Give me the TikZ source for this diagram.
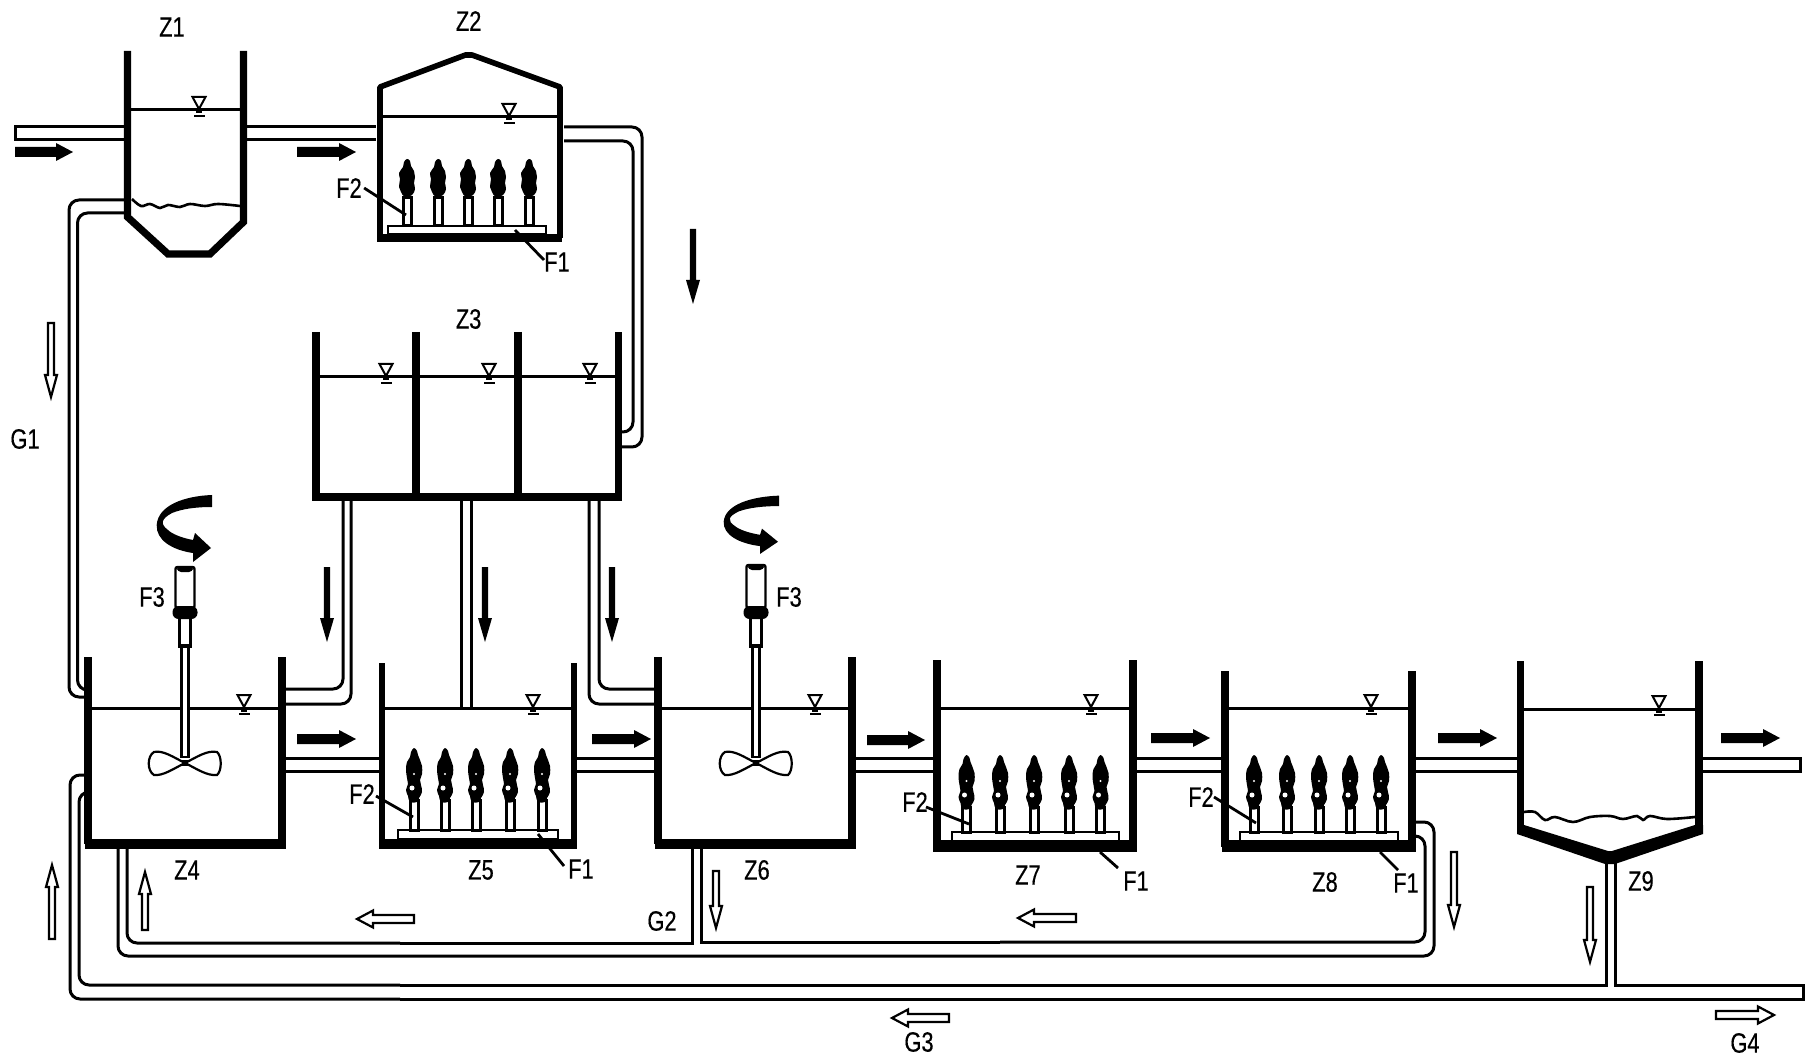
\documentclass[tikz,border=0pt]{standalone}
\usepackage{fontspec}
\setmainfont{Liberation Sans}[FakeBold=0.5]
\newcommand\lbltxt[1]{\scalebox{0.78}[1]{#1}}
\newcommand\wlevel[2]{%
  \draw[line width=1pt,fill=white] (#1-6.5,#2-12) -- (#1+6.5,#2-12) -- (#1,#2) -- cycle;
  \fill (#1-3,#2+1) rectangle (#1+3,#2+4.5);
  \fill (#1-5.5,#2+6) rectangle (#1+5.5,#2+8);}
\newcommand\hblack[3]{%
  \pgfmathsetmacro\hb{#2-17}
  \fill (#1,#3-5) -- (\hb,#3-5) -- (\hb,#3-9) -- (#2,#3) -- (\hb,#3+9) -- (\hb,#3+5) -- (#1,#3+5) -- cycle;}
\newcommand\vblack[3]{%
  \pgfmathsetmacro\hb{#3-24}
  \fill (#1-3.2,#2) -- (#1+3.2,#2) -- (#1+3.2,\hb) -- (#1+7,\hb) -- (#1,#3) -- (#1-7,\hb) -- (#1-3.2,\hb) -- cycle;}
\newcommand\vopen[3]{%
  \pgfmathsetmacro\hb{#3>#2 ? #3-22 : #3+22}
  \draw[openarrow] (#1-3,#2) -- (#1+3,#2) -- (#1+3,\hb) -- (#1+6,\hb) -- (#1,#3) -- (#1-6,\hb) -- (#1-3,\hb) -- cycle;}
\newcommand\hopen[3]{%
  \pgfmathsetmacro\hb{#2>#1 ? #2-16 : #2+16}
  \draw[openarrow] (#1,#3-4) -- (\hb,#3-4) -- (\hb,#3-8.5) -- (#2,#3) -- (\hb,#3+8.5) -- (\hb,#3+4) -- (#1,#3+4) -- cycle;}
\newcommand\curlarrow{%
  \fill (212,495) .. controls (185,496) and (158,505) .. (156.7,525)
    .. controls (156,540) and (172,550) .. (193,553) -- (193,562) -- (211,548) -- (195,533) -- (193,540)
    .. controls (182,538) and (172,534) .. (168,530)
    .. controls (160,524) and (161,519) .. (172,513)
    .. controls (182,509) and (195,507) .. (212,507) -- cycle;}
\newcommand\mixer[2]{%
  \draw[line width=1.1pt,fill=white] (#1-3.5,645) rectangle (#1+3.5,757);
  \draw[line width=1.9pt,fill=white] (#1-5.5,617) rectangle (#1+5.5,646);
  \draw[line width=1.2pt,fill=white,rounded corners=1pt] (#1-9.5,#2) rectangle (#1+9.5,608);
  \fill[rounded corners=2pt] (#1-8,#2-1) rectangle (#1+8,#2+5);
  \fill[rounded corners=3pt] (#1-12.5,606) rectangle (#1+12.5,619);
  \draw[line width=1.1pt,fill=white] (#1,763) .. controls (#1-12,757) and (#1-22,750) .. (#1-31,752)
     .. controls (#1-38,756) and (#1-38,771) .. (#1-31,775) .. controls (#1-22,776) and (#1-12,769) .. (#1,763)
     .. controls (#1+12,757) and (#1+22,750) .. (#1+32,752) .. controls (#1+37,756) and (#1+37,771) .. (#1+32,775)
     .. controls (#1+22,776) and (#1+12,769) .. (#1,763) -- cycle;
  \fill (#1-3,760) rectangle (#1+3,766);}
\tikzset{
  wall/.style={line width=3.6pt,line join=miter},
  pipeline/.style={line width=1.5pt},
  pipe/.style={line width=1.5pt,rounded corners=5pt},
  waterline/.style={line width=1.5pt},
  openarrow/.style={line width=1.1pt,fill=white},
  leader/.style={line width=1.4pt},
  lbl/.style={inner sep=0pt,font=\fontsize{14}{14}\selectfont},
  stem/.style={line width=1.5pt,fill=white},
  plate/.style={line width=1.4pt,fill=white},
  plumeA/.pic={\fill plot[smooth cycle,tension=.7] coordinates {(0,0)(3,2)(4,7)(7,12)(8,18)(7,24)(8,30)(5,36)(-2,38)(-6,33)(-8,28)(-7,20)(-8,14)(-4,8)(-3,3)};},
  plumeB/.pic={\fill plot[smooth cycle,tension=.7] coordinates {(0,0)(3,3)(4,7)(6,12)(8,18)(8,26)(6,32)(7,37)(8,44)(5,50)(3,54)(-4,54)(-6,48)(-8,42)(-6,36)(-7,30)(-8,22)(-7,14)(-4,9)(-3,4)};
     \fill[white] (-2,40) circle [radius=2.5];
     \fill[white] (0,26) circle [radius=1.2];}
}
\begin{document}
\begin{tikzpicture}[x=0.5pt,y=-0.5pt]
\useasboundingbox[fill=white] (0,0) rectangle (1812,1064);
% ---------- pipes
\draw[pipeline] (129,127) -- (15,127) -- (15,140) -- (129,140);
\draw[pipeline] (243,127) -- (376,127) (243,140) -- (376,140);
\draw[pipe] (564,127) -- (642,127) -- (642,447) -- (620,447);
\draw[pipe] (564,141) -- (633,141) -- (633,432) -- (620,432);
% G1
\draw[pipe] (129,200) -- (69,200) -- (69,697) -- (88,697);
\draw[pipe] (129,213) -- (77.5,213) -- (77.5,690) -- (88,690);
% Z3 outlets
\draw[pipe] (343,497) -- (343,689) -- (282,689);
\draw[pipe] (351,497) -- (351,704) -- (282,704);
\draw[pipeline] (461,497) -- (461,708) (471,497) -- (471,708);
\draw[pipe] (599,497) -- (599,689) -- (658,689);
\draw[pipe] (589,497) -- (589,704) -- (658,704);
% process line
\foreach \xa/\xb in {282/382,574/658,852/937,1133/1225,1412/1520}{
  \draw[pipeline] (\xa,758) -- (\xb,758) (\xa,771) -- (\xb,771);}
\draw[pipeline] (1699,758) -- (1800,758) -- (1800,771) -- (1699,771);
% G2 return
\draw[pipe] (1416,822) -- (1434,822) -- (1434,956) -- (118,956) -- (118,849);
\draw[pipe] (1416,836) -- (1425,836) -- (1425,942) -- (1000,942);
\draw[pipeline] (1000,942) -- (701,942) -- (701,849);
\draw[pipeline] (692,849) -- (692,943) -- (400,943);
\draw[pipe] (400,943) -- (127,943) -- (127,849);
% G3/G4 line
\draw[pipe] (88,775) -- (70,775) -- (70,999) -- (400,999);
\draw[pipeline] (400,999) -- (1803,999) -- (1803,985) -- (1615.5,985) -- (1615.5,860);
\draw[pipe] (88,792) -- (79,792) -- (79,985) -- (400,985);
\draw[pipeline] (400,985) -- (1606.5,985) -- (1606.5,860);
% ---------- Z1
\draw[wall] (127.5,51) -- (127.5,217) -- (168,254) -- (210,254) -- (243.5,222) -- (243.5,51);
\fill (168,251) rectangle (210,257);
\draw[waterline] (127.5,110) -- (243,110);
\wlevel{199}{109}
\draw[line width=1.3pt] plot[smooth,tension=.6] coordinates {(132,199)(141,206)(150,204)(160,208)(168,205)(180,207)(190,204)(205,206)(218,204)(240,206)};
\node[lbl] (z1) at (172,27) {\lbltxt{Z1}};
% ---------- Z2
\draw[line width=2.8pt,line join=round] (380,238) -- (380,87) -- (465.5,55) -- (472,55) -- (560,87) -- (560,238);
\fill (377,234) rectangle (562,242);
\draw[waterline] (380,117) -- (560,117);
\wlevel{509}{116}
\draw[plate] (388,226) rectangle (546,234);
\foreach \x in {407,438,468,498,529}{
  \draw[stem] (\x-4,198) rectangle (\x+4,226);
  \pic at (\x,159) {plumeA};}
\node[lbl] (z2) at (468.6,21) {\lbltxt{Z2}};
\node[lbl] (f2a) at (349,188) {\lbltxt{F2}};
\node[lbl] (f1a) at (557,262) {\lbltxt{F1}};
\coordinate (f2at) at (406,215);
\coordinate (f1at) at (515,230);
\draw[leader] (f2a.east) ++(2,0) -- (f2at);
\draw[leader] (f1at) -- (544,260);
% ---------- Z3
\draw[wall] (316,332) -- (316,497) -- (618.6,497) -- (618.6,332);
\draw[line width=4pt] (416,332) -- (416,497) (518,332) -- (518,497);
\fill (313,493) rectangle (621,501);
\draw[waterline] (316,377) -- (618,377);
\wlevel{386}{376} \wlevel{489}{376} \wlevel{590}{376}
\node[lbl] (z3) at (468.6,319) {\lbltxt{Z3}};
% ---------- Z4 Z5 Z6 Z7 Z8
\draw[wall] (88,657) -- (88,844) (282,657) -- (282,844);
\fill (84.5,839) rectangle (285.5,849);
\draw[waterline] (88,708) -- (282,708);
\wlevel{244}{707}
\draw[line width=3pt] (382,663) -- (382,844) (574,663) -- (574,844);
\fill (379,839) rectangle (577,849);
\draw[waterline] (382,708) -- (574,708);
\wlevel{533}{707}
\draw[wall] (658,657) -- (658,844) (852,657) -- (852,844);
\fill (654.5,839) rectangle (855.5,849);
\draw[waterline] (658,708) -- (852,708);
\wlevel{815}{707}
\draw[wall] (937,660) -- (937,847) (1133,660) -- (1133,847);
\fill (933,840) rectangle (1137,852);
\draw[waterline] (937,708) -- (1133,708);
\wlevel{1091}{707}
\draw[wall] (1225,671) -- (1225,847) (1412,671) -- (1412,847);
\fill (1222,840) rectangle (1416,852);
\draw[waterline] (1225,708) -- (1412,708);
\wlevel{1371}{707}
% ---------- Z9
\draw[wall] (1520.5,661) -- (1520.5,830) (1699,661) -- (1699,830);
\fill (1517,825) -- (1524,825) -- (1608,851) -- (1612,851) -- (1695,825) -- (1703,825) -- (1703,834) -- (1615,864) -- (1605,864) -- (1517,834) -- cycle;
\draw[waterline] (1520.5,709) -- (1699,709);
\wlevel{1659}{708}
\draw[line width=1.3pt] plot[smooth,tension=.6] coordinates {(1524,812)(1535,812)(1545,820)(1555,817)(1573,822)(1590,817)(1610,816)(1623,819)(1637,816)(1643,820)(1650,816)(1667,819)(1695,817)};
% ---------- mixers
\mixer{185}{567}
\mixer{756}{565}
\curlarrow
\begin{scope}[shift={(567,65)},yscale=0.87]\curlarrow\end{scope}
% ---------- diffusers
\draw[plate] (398,830) rectangle (558,839);
\foreach \x in {414,445,476,510,542}{
  \draw[stem] (\x-4,800) rectangle (\x+4,830);
  \pic at (\x,748) {plumeB};}
\draw[plate] (952,832) rectangle (1119,841);
\foreach \x in {966.5,1000,1034,1069,1100.5}{
  \draw[stem] (\x-4,807) rectangle (\x+4,832);
  \pic at (\x,755) {plumeB};}
\draw[plate] (1240,832) rectangle (1398,841);
\foreach \x in {1254,1287,1319,1350,1381}{
  \draw[stem] (\x-4,807) rectangle (\x+4,832);
  \pic at (\x,755) {plumeB};}
% ---------- labels and leaders
\node[lbl] (f3a) at (152,597) {\lbltxt{F3}};
\node[lbl] (f3b) at (789,597) {\lbltxt{F3}};
\node[lbl] (z4) at (187,870) {\lbltxt{Z4}};
\node[lbl] (z5) at (481,870) {\lbltxt{Z5}};
\node[lbl] (z6) at (757,870) {\lbltxt{Z6}};
\node[lbl] (z7) at (1028,875) {\lbltxt{Z7}};
\node[lbl] (z8) at (1325,882) {\lbltxt{Z8}};
\node[lbl] (z9) at (1641,881) {\lbltxt{Z9}};
\node[lbl] (f1b) at (581,869) {\lbltxt{F1}};
\node[lbl] (f2b) at (362,794) {\lbltxt{F2}};
\node[lbl] (f1c) at (1136,881) {\lbltxt{F1}};
\node[lbl] (f2c) at (915,802) {\lbltxt{F2}};
\node[lbl] (f1d) at (1406,883) {\lbltxt{F1}};
\node[lbl] (f2d) at (1201,797) {\lbltxt{F2}};
\node[lbl] (g1) at (25,439) {\lbltxt{G1}};
\node[lbl] (g2) at (662,921) {\lbltxt{G2}};
\node[lbl] (g3) at (919,1042) {\lbltxt{G3}};
\node[lbl] (g4) at (1745,1043) {\lbltxt{G4}};
\draw[leader] (376,796) -- (413,817);
\draw[leader] (538,834) -- (564,866);
\draw[leader] (926,807) -- (969,824);
\draw[leader] (1100,852) -- (1118,868);
\draw[leader] (1214,797) -- (1256,823);
\draw[leader] (1380,852) -- (1398,870);
% ---------- flow arrows
\hblack{15}{73}{152}
\hblack{297}{356}{152}
\hblack{297}{356}{739}
\hblack{592}{651}{739}
\hblack{867}{925}{740}
\hblack{1151}{1210}{738}
\hblack{1438}{1497}{738}
\hblack{1721}{1780}{738}
\vblack{693}{229}{304}
\vblack{327}{567}{642}
\vblack{485}{567}{642}
\vblack{612}{567}{642}
\vopen{51}{323}{397}
\vopen{52}{939}{865}
\vopen{145}{930}{872}
\vopen{716}{871}{928}
\vopen{1454}{852}{927}
\vopen{1590}{887}{962}
\hopen{414}{357}{919}
\hopen{1076}{1018}{918}
\hopen{949}{892}{1018}
\hopen{1716}{1774}{1015}
\end{tikzpicture}
\end{document}
